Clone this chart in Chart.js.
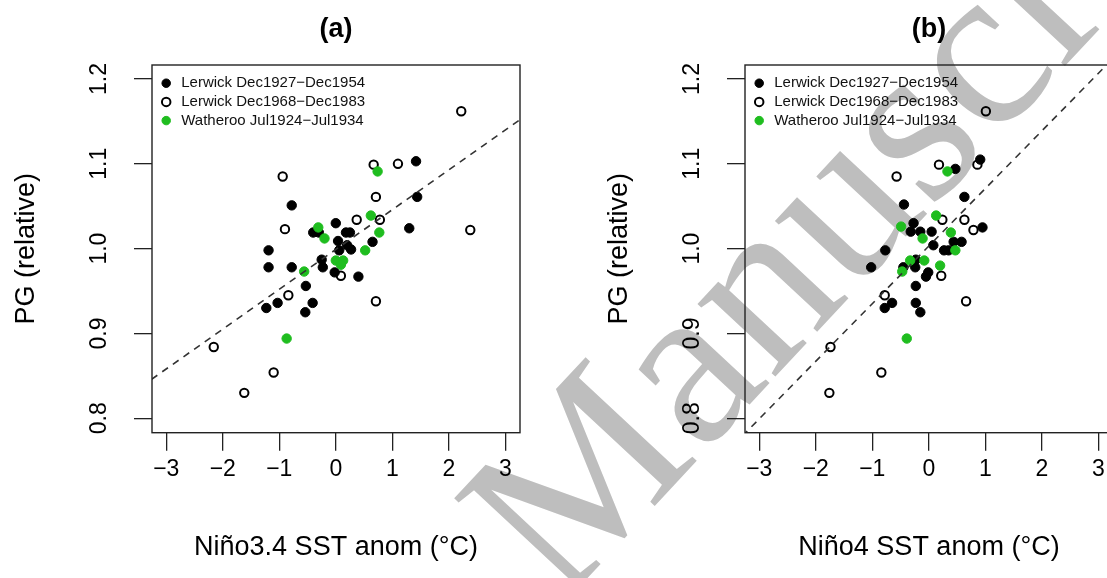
<!DOCTYPE html>
<html><head><meta charset="utf-8">
<script src="https://cdn.jsdelivr.net/npm/chart.js@4/dist/chart.umd.min.js"></script>
<style>
html,body{margin:0;padding:0;background:#fff;width:1107px;height:578px;overflow:hidden;position:relative}
.panel{position:absolute;top:0;width:560px;height:578px}
#wm{position:absolute;left:561px;top:607px;font-family:'Liberation Serif','DejaVu Serif',serif;font-size:232px;line-height:1;color:#bebebe;white-space:nowrap;transform-origin:0 0;transform:rotate(-47deg) translateY(-0.8375em)}
</style></head>
<body>
<div id="wm">Manuscript</div>
<div class="panel" style="left:0"><canvas id="ca"></canvas></div>
<div class="panel" style="left:593px"><canvas id="cb"></canvas></div>
<script>
// ---- data ----
const seriesLabels = ['Lerwick Dec1927\u2212Dec1954', 'Lerwick Dec1968\u2212Dec1983', 'Watheroo Jul1924\u2212Jul1934'];
const xTicks = [-3, -2, -1, 0, 1, 2, 3];
const yTicks = [0.8, 0.9, 1.0, 1.1, 1.2];

// panel (a): Nino3.4 SST anomaly
const a_early_x = [1.42, 1.44, -0.78, 0.00, 1.30, -0.40, -0.30, 0.18, 0.25, -1.19, -1.19, -0.78, 0.04, 0.20, 0.27, 0.06, 0.65, -0.25, -0.23, -0.02, 0.40, -0.53, -1.03, -0.41, -1.23, -0.54];
const a_early_y = [1.103, 1.061, 1.051, 1.030, 1.024, 1.019, 1.019, 1.019, 1.019, 0.998, 0.978, 0.978, 1.009, 1.004, 0.999, 0.998, 1.008, 0.987, 0.978, 0.972, 0.967, 0.956, 0.936, 0.936, 0.930, 0.925];
const a_late_x = [2.22, 0.67, 1.10, -0.94, 0.71, 0.37, 0.78, -0.90, 2.38, 0.09, -0.84, 0.71, -2.16, -1.10, -1.62];
const a_late_y = [1.162, 1.099, 1.100, 1.085, 1.061, 1.034, 1.034, 1.023, 1.022, 0.968, 0.945, 0.938, 0.884, 0.854, 0.830];
const a_wath_x = [0.74, 0.62, -0.31, 0.77, -0.20, 0.52, 0.00, 0.13, 0.09, -0.56, -0.87];
const a_wath_y = [1.091, 1.039, 1.025, 1.019, 1.012, 0.998, 0.986, 0.986, 0.981, 0.973, 0.894];
const a_fit_x = [-3.26, 3.26];
const a_fit_y = [0.846, 1.152];

// panel (b): Nino4 SST anomaly
const b_early_x = [0.91, 0.47, 0.63, -0.44, 0.95, -0.27, -0.32, -0.15, 0.05, 0.08, 0.27, 0.35, 0.44, 0.58, -0.77, -1.02, -0.23, -0.45, -0.24, -0.01, -0.05, -0.23, -0.65, -0.78, -0.23, -0.15];
const b_early_y = [1.105, 1.094, 1.061, 1.052, 1.025, 1.030, 1.020, 1.020, 1.020, 1.004, 0.998, 0.998, 1.008, 1.008, 0.998, 0.978, 0.987, 0.978, 0.978, 0.972, 0.967, 0.956, 0.936, 0.930, 0.936, 0.925];
const b_late_x = [1.01, 0.18, 0.86, -0.57, 0.24, 0.63, 0.79, 0.22, -0.78, 0.66, -1.74, -0.84, -1.76];
const b_late_y = [1.162, 1.099, 1.099, 1.085, 1.034, 1.034, 1.022, 0.968, 0.945, 0.938, 0.884, 0.854, 0.830];
const b_wath_x = [0.33, 0.13, -0.49, 0.39, -0.11, 0.47, -0.33, -0.08, 0.20, -0.47, -0.39];
const b_wath_y = [1.091, 1.039, 1.026, 1.019, 1.012, 0.998, 0.986, 0.986, 0.980, 0.973, 0.894];
const b_fit_x = [-3.3, 3.3];
const b_fit_y = [0.779, 1.227];

// ---- drawing ----
const FONT = "'Liberation Sans', Arial, Helvetica, sans-serif";
const GREEN = '#1fbd1f';
const X_MIN = -3.253, X_MAX = 3.26, Y_MIN = 0.783, Y_MAX = 1.2165;

const pts = (xs, ys) => xs.map((x, i) => ({x: x, y: ys[i]}));
const fmtX = v => (v < 0 ? '\u2212' + Math.abs(v) : String(v));

const boxPlugin = {
  id: 'plotBox',
  afterDatasetsDraw(chart) {
    const {ctx, chartArea: a} = chart;
    ctx.save();
    ctx.strokeStyle = '#222';
    ctx.lineWidth = 1.4;
    ctx.strokeRect(a.left, a.top, a.right - a.left, a.bottom - a.top);
    ctx.restore();
  }
};
// put the legend box in the top-left corner of the plot area
const legendPlace = {
  id: 'legendPlace',
  afterLayout(chart) {
    const l = chart.legend, a = chart.chartArea;
    if (l) {
      const w = l.width, h = l.height;
      l.left = a.left + 3; l.right = l.left + w;
      l.top = a.top + 7; l.bottom = l.top + h;
    }
  }
};

function makeChart(id, early, late, wath, fit, title, xTitle) {
  new Chart(document.getElementById(id), {
    type: 'scatter',
    data: {
      datasets: [
        {label: seriesLabels[0], data: early, backgroundColor: '#000', borderColor: '#000', borderWidth: 1, pointRadius: 4.7, order: 3},
        {label: seriesLabels[1], data: late, backgroundColor: 'rgba(0,0,0,0)', borderColor: '#000', borderWidth: 2, pointRadius: 4.2, order: 2},
        {label: seriesLabels[2], data: wath, backgroundColor: GREEN, borderColor: GREEN, borderWidth: 1, pointRadius: 4.7, order: 1},
        {label: 'fit', type: 'line', data: fit, showLine: true, borderColor: '#333', borderWidth: 1.6, borderDash: [7, 6], pointRadius: 0, fill: false, order: 0}
      ]
    },
    options: {
      responsive: true,
      maintainAspectRatio: false,
      animation: false,
      events: [],
      layout: {padding: {left: 0, right: 40, top: 0, bottom: 0}},
      plugins: {
        title: {display: true, text: title, fullSize: false, color: '#000',
          font: {family: FONT, size: 27, weight: 'bold'}, padding: {top: 13, bottom: 19.6}},
        legend: {display: true, position: 'chartArea', align: 'start',
          labels: {usePointStyle: true, boxWidth: 15, boxHeight: 6, padding: 3.7, color: '#111',
            font: {family: FONT, size: 15},
            filter: item => item.datasetIndex < 3,
            sort: (p, q) => p.datasetIndex - q.datasetIndex}},
        tooltip: {enabled: false}
      },
      scales: {
        x: {
          type: 'linear', min: X_MIN, max: X_MAX,
          afterBuildTicks: s => { s.ticks = xTicks.map(v => ({value: v})); },
          afterFit: s => { s.height = 145.3; },
          ticks: {font: {family: FONT, size: 23}, color: '#000', padding: 5, maxRotation: 0, autoSkip: false, callback: v => fmtX(v)},
          grid: {display: true, drawOnChartArea: false, drawTicks: true, tickLength: 18, color: '#222', lineWidth: 1.3},
          border: {display: false},
          title: {display: true, text: xTitle, color: '#000', font: {family: FONT, size: 27}, padding: {top: 0, bottom: 13.8}}
        },
        y: {
          type: 'linear', min: Y_MIN, max: Y_MAX,
          afterBuildTicks: s => { s.ticks = yTicks.map(v => ({value: v})); },
          afterFit: s => { s.width = 152; },
          ticks: {font: {family: FONT, size: 23}, color: '#000', padding: 18, minRotation: 90, maxRotation: 90, crossAlign: 'center', autoSkip: false, callback: v => v.toFixed(1)},
          grid: {display: true, drawOnChartArea: false, drawTicks: true, tickLength: 18, color: '#222', lineWidth: 1.3},
          border: {display: false},
          title: {display: true, text: 'PG (relative)', color: '#000', font: {family: FONT, size: 27}, padding: {top: 10.6, bottom: 0}}
        }
      }
    },
    plugins: [boxPlugin, legendPlace]
  });
}

makeChart('ca', pts(a_early_x, a_early_y), pts(a_late_x, a_late_y), pts(a_wath_x, a_wath_y), pts(a_fit_x, a_fit_y), '(a)', 'Ni\u00f1o3.4 SST anom (\u00b0C)');
makeChart('cb', pts(b_early_x, b_early_y), pts(b_late_x, b_late_y), pts(b_wath_x, b_wath_y), pts(b_fit_x, b_fit_y), '(b)', 'Ni\u00f1o4 SST anom (\u00b0C)');
</script>
</body></html>
